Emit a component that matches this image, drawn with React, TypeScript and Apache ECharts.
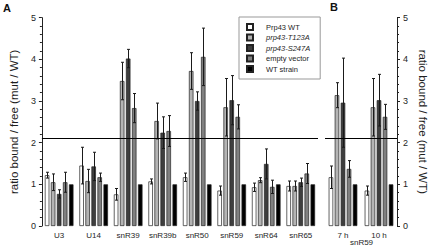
import React, { useEffect, useRef } from "react";
import * as echarts from "echarts";

const categoriesA = ["U3", "U14", "snR39", "snR39b", "snR50", "snR59", "snR64", "snR65"];
const categoriesB = ["7 h", "10 h"];
const groupLabelB = "snR59";
const seriesNames = ["Prp43 WT", "prp43-T123A", "prp43-S247A", "empty vector", "WT strain"];
const seriesColors = ["#ffffff", "#b4b4b4", "#3e3e3e", "#808080", "#000000"];
const threshold = 2.1;
const yTicks = [0, 1, 2, 3, 4, 5];

// Panel A values
const wtA = [1.22, 1.45, 0.76, 1.07, 1.17, 0.85, 0.93, 0.96];
const t123aA = [1.05, 1.08, 3.48, 2.52, 3.72, 2.85, 1.1, 0.96];
const s247aA = [0.77, 1.43, 4.02, 2.24, 3.0, 3.02, 1.49, 1.05];
const emptyA = [1.05, 1.17, 2.83, 2.28, 4.06, 2.62, 0.94, 1.26];
const wtStrainA = [1, 1, 1, 1, 1, 1, 1, 1];
// Panel A errors
const wtErrA = [0.07, 0.44, 0.14, 0.06, 0.1, 0.11, 0.1, 0.12];
const t123aErrA = [0.2, 0.28, 0.45, 0.43, 0.44, 0.69, 0.06, 0.12];
const s247aErrA = [0.1, 0.34, 0.22, 0.38, 0.22, 0.59, 0.36, 0.1];
const emptyErrA = [0.24, 0.1, 0.35, 0.37, 0.69, 0.29, 0.16, 0.24];

// Panel B values
const wtB = [1.17, 0.85];
const t123aB = [3.14, 2.85];
const s247aB = [2.96, 3.02];
const emptyB = [1.37, 2.62];
const wtStrainB = [1, 1];
// Panel B errors
const wtErrB = [0.27, 0.11];
const t123aErrB = [0.3, 0.69];
const s247aErrB = [1.07, 0.62];
const emptyErrB = [0.2, 0.3];

const valuesA = [wtA, t123aA, s247aA, emptyA, wtStrainA];
const errorsA = [wtErrA, t123aErrA, s247aErrA, emptyErrA];
const valuesB = [wtB, t123aB, s247aB, emptyB, wtStrainB];
const errorsB = [wtErrB, t123aErrB, s247aErrB, emptyErrB];

const FONT = "'Liberation Sans', Arial, Helvetica, sans-serif";
const TEXT = "#1e1e1e";
const BAR_W = 4.5;
const BAR_GAP = 0.34;
const N = seriesNames.length;

function barOffset(i: number) {
  const total = N * BAR_W + (N - 1) * BAR_GAP * BAR_W;
  return -total / 2 + i * BAR_W * (1 + BAR_GAP) + BAR_W / 2;
}

function errorData(values: number[][], errors: number[][]) {
  const out: number[][] = [];
  errors.forEach((errs, si) => {
    errs.forEach((e, ci) => {
      out.push([ci, values[si][ci], e, si]);
    });
  });
  return out;
}

const renderError = (params: any, api: any) => {
  const cat = api.value(0);
  const val = api.value(1);
  const err = api.value(2);
  const si = api.value(3);
  const top = api.coord([cat, val + err]);
  const bot = api.coord([cat, val - err]);
  const x = Math.round(top[0] + barOffset(si)) + 0.5;
  const cap = 1.5;
  const style = { stroke: "#1a1a1a", lineWidth: 1 };
  return {
    type: "group",
    children: [
      { type: "line", shape: { x1: x, y1: top[1], x2: x, y2: bot[1] }, style },
      { type: "line", shape: { x1: x - cap, y1: top[1], x2: x + cap, y2: top[1] }, style },
      { type: "line", shape: { x1: x - cap, y1: bot[1], x2: x + cap, y2: bot[1] }, style },
    ],
  };
};

function yAxisCfg(gridIndex: number, position: "left" | "right") {
  return {
    type: "value",
    gridIndex,
    position,
    min: 0,
    max: 5,
    interval: 1,
    name: "ratio bound / free (mut / WT)",
    nameLocation: "middle",
    nameRotate: position === "left" ? 90 : -90,
    nameGap: position === "left" ? 15 : 20,
    nameTextStyle: { fontFamily: FONT, fontSize: 11.5, color: TEXT },
    axisLine: { show: true, lineStyle: { color: "#222", width: 1 } },
    axisTick: { show: true, length: 3, lineStyle: { color: "#222" } },
    minorTick: { show: true, splitNumber: 5, length: 2, lineStyle: { color: "#222" } },
    splitLine: { show: false },
    axisLabel: {
      fontFamily: FONT,
      fontSize: 9,
      color: TEXT,
      margin: 6,
      formatter: (v: number) => (yTicks.includes(v) ? String(v) : ""),
    },
  };
}

function xAxisCfg(gridIndex: number, data: string[]) {
  return {
    type: "category",
    gridIndex,
    data,
    axisLine: { show: false },
    axisTick: { show: false },
    axisLabel: {
      show: true,
      fontFamily: FONT,
      fontSize: 8,
      color: TEXT,
      margin: 5,
      interval: 0,
    },
  };
}

function barSeries(values: number[][], axisIndex: number) {
  return values.map((vals, i) => ({
    type: "bar",
    name: seriesNames[i],
    xAxisIndex: axisIndex,
    yAxisIndex: axisIndex,
    data: vals,
    barWidth: BAR_W,
    barGap: `${BAR_GAP * 100}%`,
    itemStyle: { color: seriesColors[i], borderColor: "#222", borderWidth: 0.7 },
    z: 2,
    ...(i === 0
      ? {
          markLine: {
            silent: true,
            symbol: ["none", "none"],
            label: { show: false },
            lineStyle: { color: "#000", width: 1, type: "solid" },
            data: [{ yAxis: threshold }],
            z: 5,
          },
        }
      : {}),
  }));
}

export default function App() {
  const ref = useRef<HTMLDivElement>(null);
  useEffect(() => {
    if (!ref.current) return;
    const chart = echarts.init(ref.current, undefined, { renderer: "svg" });
    chart.setOption({
      animation: false,
      backgroundColor: "#fff",
      textStyle: { fontFamily: FONT, color: TEXT },
      grid: [
        { left: 32, right: 112, top: 17.7, bottom: 20, containLabel: false },
        { left: 325, right: 32.3, top: 17.7, bottom: 20, containLabel: false },
      ],
      xAxis: [xAxisCfg(0, categoriesA), xAxisCfg(1, categoriesB)],
      yAxis: [yAxisCfg(0, "left"), yAxisCfg(1, "right")],
      legend: {
        data: seriesNames.map((n) => ({ name: n, icon: "rect" })),
        orient: "vertical",
        left: 239,
        top: 17,
        itemWidth: 6,
        itemHeight: 6,
        itemGap: 2.5,
        padding: [6, 10, 6, 7],
        backgroundColor: "#fff",
        borderColor: "#999",
        borderWidth: 1,
        borderRadius: 0,
        formatter: (name: string) => (name.startsWith("prp43") ? `{i|${name}}` : name),
        textStyle: {
          fontFamily: FONT,
          fontSize: 7.5,
          lineHeight: 8,
          color: TEXT,
          padding: [0, 0, 0, 8],
          rich: { i: { fontStyle: "italic", fontSize: 7.5, fontFamily: FONT, color: TEXT } },
        },
      },
      graphic: [
        {
          type: "text",
          left: 3,
          top: 2,
          style: { text: "A", font: `bold 11px ${FONT}`, fill: "#111" },
        },
        {
          type: "text",
          left: 330,
          top: 1,
          style: { text: "B", font: `bold 11px ${FONT}`, fill: "#111" },
        },
        {
          type: "text",
          x: 361.5,
          y: 242,
          style: {
            text: groupLabelB,
            font: `8px ${FONT}`,
            fill: TEXT,
            textAlign: "center",
            textVerticalAlign: "middle",
          },
        },
      ],
      series: [
        ...barSeries(valuesA, 0),
        ...barSeries(valuesB, 1),
        {
          type: "custom",
          name: "errA",
          xAxisIndex: 0,
          yAxisIndex: 0,
          data: errorData(valuesA, errorsA),
          encode: { x: 0, y: 1 },
          renderItem: renderError,
          z: 4,
          silent: true,
        },
        {
          type: "custom",
          name: "errB",
          xAxisIndex: 1,
          yAxisIndex: 1,
          data: errorData(valuesB, errorsB),
          encode: { x: 0, y: 1 },
          renderItem: renderError,
          z: 4,
          silent: true,
        },
      ],
    });
    return () => chart.dispose();
  }, []);
  return (
    <div
      ref={ref}
      style={{
        position: "fixed",
        left: 0,
        top: 0,
        width: 430,
        height: 246,
        background: "#fff",
        opacity: 0.999,
      }}
    />
  );
}
